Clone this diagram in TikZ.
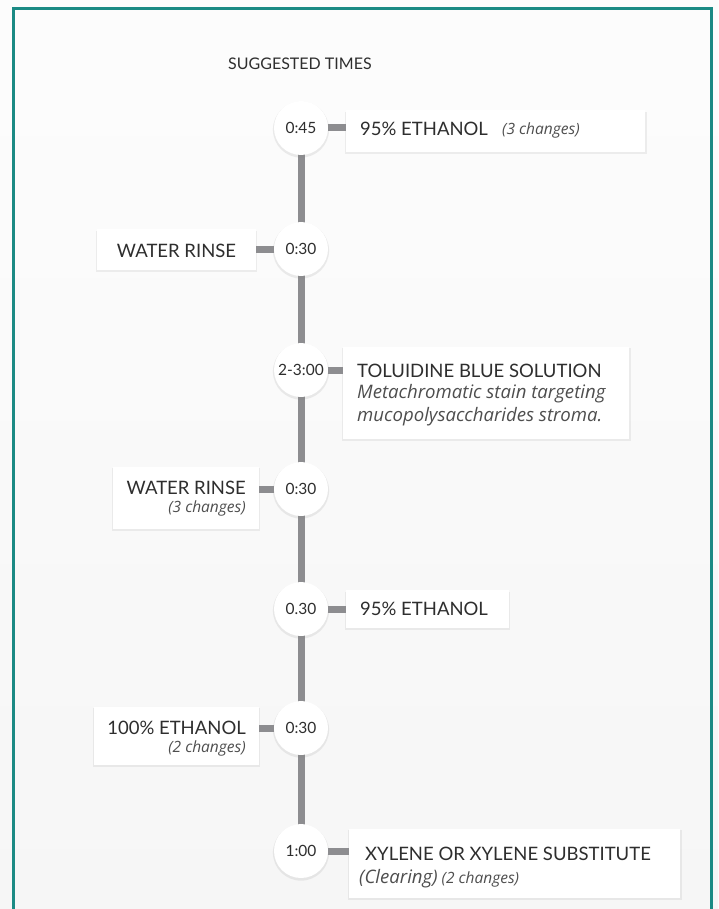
\documentclass[tikz,border=0pt]{standalone}
\usepackage{fontspec}
\setmainfont{Lato}
\newfontfamily\osans{Open Sans}
\usetikzlibrary{shadows}
\definecolor{tealb}{HTML}{1B8A84}
\definecolor{linegray}{HTML}{8D8D90}
\definecolor{txtc}{HTML}{2E2E2E}
\definecolor{itc}{HTML}{4E4E4E}
\tikzset{
  circ/.style={circle, fill=white, minimum size=54pt, inner sep=0pt, text=txtc,
    font=\fontsize{15.5}{17}\selectfont,
    drop shadow={opacity=0.14, shadow xshift=0pt, shadow yshift=-1.5pt, shadow scale=1.04}},
  box/.style={rectangle, fill=white, inner sep=0pt, anchor=north west,
    drop shadow={opacity=0.12, shadow xshift=0pt, shadow yshift=-1.5pt, shadow scale=1.01}},
  lbl/.style={inner sep=0pt, text=txtc, font=\fontsize{18.5}{21}\selectfont},
  sub/.style={inner sep=0pt, text=itc, font=\osans\fontsize{15.5}{17}\selectfont\itshape},
  desc/.style={inner sep=0pt, text=itc, font=\osans\fontsize{18.6}{21}\selectfont\itshape},
  conn/.style={linegray, line width=7pt}
}
\begin{document}
\begin{tikzpicture}[x=1pt,y=-1pt]
\useasboundingbox (0,0) rectangle (718,909);
\shade[top color=white!99!black, bottom color=white!96.5!black] (0,0) rectangle (718,909);
\draw[tealb, line width=3pt] (13.5,909) -- (13.5,8.5) -- (711,8.5) -- (711,909);

\node[inner sep=0pt, anchor=base west, text=txtc, font=\fontsize{16}{18}\selectfont] (title) at (228,70) {SUGGESTED TIMES};

% boxes
\node[box, minimum width=299pt, minimum height=42pt] (b1) at (346,110) {};
\node[box, minimum width=159pt, minimum height=41pt] (b2) at (97,229) {};
\node[box, minimum width=286pt, minimum height=92pt] (b3) at (343,347) {};
\node[box, minimum width=146pt, minimum height=62pt] (b4) at (113,467) {};
\node[box, minimum width=163pt, minimum height=38pt] (b5) at (346,590) {};
\node[box, minimum width=165pt, minimum height=58pt] (b6) at (94,707) {};
\node[box, minimum width=331pt, minimum height=69pt] (b7) at (349,829) {};

% timeline
\coordinate (c1) at (301,128);
\coordinate (c7) at (301,851);
\draw[conn] (c1) -- (c7);

\node[circ] (t1) at (301,128) {0:45};
\node[circ] (t2) at (301,249) {0:30};
\node[circ] (t3) at (301,370) {2-3:00};
\node[circ] (t4) at (301,489) {0:30};
\node[circ] (t5) at (301,609) {0.30};
\node[circ] (t6) at (301,728) {0:30};
\node[circ] (t7) at (301,851) {1:00};

% connectors
\draw[conn] (t1.east) -- (t1.east -| b1.west);
\draw[conn] (t2.west) -- (t2.west -| b2.east);
\draw[conn] (t3.east) -- (t3.east -| b3.west);
\draw[conn] (t4.west) -- (t4.west -| b4.east);
\draw[conn] (t5.east) -- (t5.east -| b5.west);
\draw[conn] (t6.west) -- (t6.west -| b6.east);
\draw[conn] (t7.east) -- (t7.east -| b7.west);

% texts
\node[lbl, anchor=base west] (l1) at (360,135.5) {95\% ETHANOL};
\node[sub, anchor=base west] (s1) at (502,134.5) {(3 changes)};

\node[lbl, anchor=base] (l2) at (176.5,257) {WATER RINSE};

\node[lbl, anchor=base west] (l3) at (357,377) {TOLUIDINE BLUE SOLUTION};
\node[desc, anchor=base west] (d3a) at (357,398.5) {Metachromatic stain targeting};
\node[desc, anchor=base west] (d3b) at (357,421.5) {mucopolysaccharides stroma.};

\node[lbl, anchor=base east] (l4) at (246,494) {WATER RINSE};
\node[sub, anchor=base east] (s4) at (246,512) {(3 changes)};

\node[lbl, anchor=base west] (l5) at (360,615.5) {95\% ETHANOL};

\node[lbl, anchor=base east] (l6) at (246,734) {100\% ETHANOL};
\node[sub, anchor=base east] (s6) at (246,752.5) {(2 changes)};

\node[lbl, anchor=base west] (l7) at (365,860) {XYLENE OR XYLENE SUBSTITUTE};
\node[sub, anchor=base west] (s7) at (359,883) {{\fontsize{18.6}{21}\selectfont (Clearing)} (2 changes)};
\end{tikzpicture}
\end{document}
